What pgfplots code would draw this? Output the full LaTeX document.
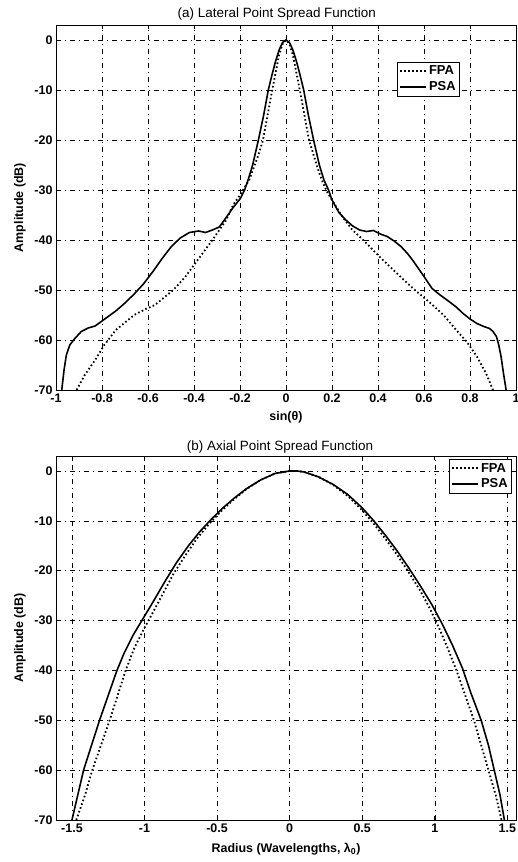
\documentclass[border=0pt]{standalone}
\usepackage{pgfplots}
\pgfplotsset{compat=1.18}
\usepackage{fontspec}
\setmainfont{Liberation Sans}

\newcommand{\lblfont}{\bfseries\fontsize{12.5}{13}\selectfont}
\newcommand{\ttlfont}{\fontsize{13.5}{14}\selectfont}

\pgfplotsset{
  psfstyle/.style={
    scale only axis, width=460bp,
    axis line style={black, line width=0.6bp},
    tick style={black, line width=0.5bp}, major tick length=4bp,
    grid=major,
    major grid style={black, line width=0.45bp, dash pattern=on 5bp off 4bp on 1bp off 4bp},
    ymin=-70, ymax=3,
    ytick={-70,-60,-50,-40,-30,-20,-10,0},
    yticklabels={-70,-60,-50,-40,-30,-20,-10,0},
    ticklabel style={font=\lblfont},
    /pgf/number format/assume math mode=true,
    ylabel={Amplitude (dB)},
    every axis y label/.style={at={(axis description cs:-0.0783,0.5)}, rotate=90, anchor=center, font=\lblfont},
    legend style={font=\bfseries\fontsize{13}{14}\selectfont, draw=black, line width=0.4bp,
      inner sep=2bp, row sep=1bp, legend cell align=left},
    legend image code/.code={\draw[#1] plot coordinates {(0bp,0bp) (26bp,0bp)};},
  },
  fpa/.style={black, line width=1.8bp, dash pattern=on 1.6bp off 2.4bp},
  psa/.style={black, line width=1.6bp},
}

\begin{document}
\begin{tikzpicture}

% (a) lateral
\begin{axis}[psfstyle,
  at={(56bp,472bp)}, anchor=south west, height=365bp,
  xmin=-1, xmax=1,
  xtick={-1,-0.8,-0.6,-0.4,-0.2,0,0.2,0.4,0.6,0.8,1},
  xticklabels={-1,-0.8,-0.6,-0.4,-0.2,0,0.2,0.4,0.6,0.8,1},
  xlabel={sin(θ)},
  every axis x label/.style={at={(axis description cs:0.5,-0.074)}, anchor=center, font=\lblfont},
  title={(a) Lateral Point Spread Function},
  every axis title/.style={at={(axis description cs:0.48,1.030)}, anchor=center, font=\ttlfont},
  legend style={at={(axis description cs:0.878,0.899)}, anchor=north east},
]
\addplot[fpa] coordinates {
(-0.91,-70) (-0.875,-67) (-0.83,-64) (-0.79,-61) (-0.74,-58) (-0.70,-56.5)
(-0.66,-55) (-0.61,-53.8) (-0.57,-53) (-0.53,-51.5) (-0.49,-50) (-0.44,-47.5)
(-0.40,-45) (-0.36,-42.5) (-0.32,-40) (-0.29,-38) (-0.26,-36) (-0.23,-33)
(-0.20,-31) (-0.18,-29.5) (-0.16,-28) (-0.14,-25.5) (-0.12,-23) (-0.10,-20)
(-0.08,-15) (-0.06,-10) (-0.045,-6.5) (-0.03,-3) (-0.015,-0.8) (0,0)
(0.015,-0.8) (0.03,-3) (0.045,-6.5) (0.06,-10) (0.08,-15) (0.10,-20)
(0.12,-23) (0.14,-26) (0.16,-28.5) (0.18,-30.5) (0.20,-32) (0.24,-35)
(0.285,-37.8) (0.34,-40.2) (0.41,-43.5) (0.485,-46.8) (0.56,-50) (0.63,-52.7)
(0.685,-55) (0.74,-58) (0.785,-60.3) (0.83,-63.3) (0.87,-66.7) (0.90,-70)
};
\addlegendentry{FPA}
\addplot[psa] coordinates {
(-0.975,-70) (-0.965,-66) (-0.955,-63) (-0.94,-61) (-0.92,-59.8) (-0.89,-58.3)
(-0.86,-57.6) (-0.83,-57.2) (-0.80,-56.2) (-0.77,-55.2) (-0.74,-54.2) (-0.70,-52.6)
(-0.66,-50.8) (-0.62,-48.8) (-0.58,-46.4) (-0.54,-43.8) (-0.50,-41.4) (-0.46,-39.6)
(-0.42,-38.5) (-0.38,-38.2) (-0.35,-38.5) (-0.32,-38.0) (-0.29,-37.4) (-0.26,-35.5)
(-0.23,-33.5) (-0.20,-31.8) (-0.18,-30) (-0.165,-28) (-0.145,-25) (-0.12,-20)
(-0.097,-15) (-0.077,-10) (-0.06,-6.8) (-0.045,-4.2) (-0.03,-2) (-0.015,-0.5)
(0,0) (0.015,-0.5) (0.03,-2) (0.045,-4.2) (0.06,-6.8) (0.077,-10)
(0.097,-15) (0.12,-20) (0.145,-25) (0.165,-28) (0.185,-30) (0.20,-32)
(0.23,-34.5) (0.26,-36) (0.29,-37.2) (0.32,-38) (0.35,-38.3) (0.38,-38.1)
(0.41,-38.8) (0.44,-39.3) (0.47,-40.2) (0.50,-41.3) (0.53,-42.8) (0.55,-44)
(0.60,-47.3) (0.635,-49.7) (0.67,-51) (0.70,-52) (0.74,-53.4) (0.77,-54.7)
(0.80,-55.8) (0.83,-56.7) (0.86,-57.3) (0.885,-57.7) (0.90,-58.3) (0.915,-59.3)
(0.925,-61) (0.935,-63.3) (0.945,-66.5) (0.957,-70)
};
\addlegendentry{PSA}
\end{axis}

% (b) axial
\begin{axis}[psfstyle,
  at={(56bp,42bp)}, anchor=south west, height=364bp,
  xmin=-1.61, xmax=1.56,
  xtick={-1.5,-1,-0.5,0,0.5,1,1.5},
  xticklabels={-1.5,-1,-0.5,0,0.5,1,1.5},
  xlabel={Radius (Wavelengths, λ\textsubscript{0})},
  every axis x label/.style={at={(axis description cs:0.5,-0.08)}, anchor=center, font=\lblfont},
  title={(b) Axial Point Spread Function},
  every axis title/.style={at={(axis description cs:0.487,1.025)}, anchor=center, font=\ttlfont},
  legend style={at={(axis description cs:0.991,0.992)}, anchor=north east},
]
\addplot[fpa] coordinates {
(-1.47,-70) (-1.41,-65) (-1.36,-60) (-1.30,-55) (-1.24,-50) (-1.185,-45)
(-1.13,-40) (-1.07,-35.5) (-1.01,-32) (-0.95,-28.8) (-0.88,-25) (-0.80,-20.6)
(-0.72,-17) (-0.64,-13.6) (-0.56,-10.8) (-0.48,-8.3) (-0.40,-6.1)
(-0.30,-3.7) (-0.20,-1.8) (-0.10,-0.5) (0,0) (0.05,0) (0.10,-0.2)
(0.20,-1.2) (0.30,-2.8) (0.40,-5.0) (0.50,-7.9) (0.58,-10.6) (0.66,-13.6)
(0.74,-16.8) (0.82,-20.3) (0.90,-24) (0.97,-27.8) (1.03,-31.5) (1.09,-35.6)
(1.15,-40) (1.21,-45) (1.27,-50) (1.32,-55) (1.37,-60) (1.42,-65) (1.46,-70)
};
\addlegendentry{FPA}
\addplot[psa] coordinates {
(-1.50,-70) (-1.46,-65) (-1.42,-60) (-1.365,-55) (-1.31,-50) (-1.25,-45)
(-1.19,-40) (-1.14,-36.5) (-1.08,-33) (-1.01,-29.6) (-0.94,-26.2) (-0.86,-22.2)
(-0.78,-18.4) (-0.70,-15.1) (-0.62,-12.2) (-0.54,-9.7) (-0.46,-7.4) (-0.38,-5.4)
(-0.30,-3.6) (-0.20,-1.8) (-0.10,-0.5) (0,0) (0.05,0)
(0.10,-0.2) (0.20,-1.2) (0.30,-2.7) (0.40,-4.7) (0.50,-7.4) (0.58,-10)
(0.66,-12.9) (0.74,-16) (0.82,-19.4) (0.90,-23) (0.98,-26.8) (1.05,-30.6)
(1.12,-34.8) (1.19,-39.5) (1.25,-44.6) (1.32,-50) (1.37,-55) (1.41,-60)
(1.45,-65) (1.48,-70)
};
\addlegendentry{PSA}
\end{axis}

\pgfresetboundingbox
\path[use as bounding box] (0bp,0bp) rectangle (518bp,862bp);
\end{tikzpicture}
\end{document}
